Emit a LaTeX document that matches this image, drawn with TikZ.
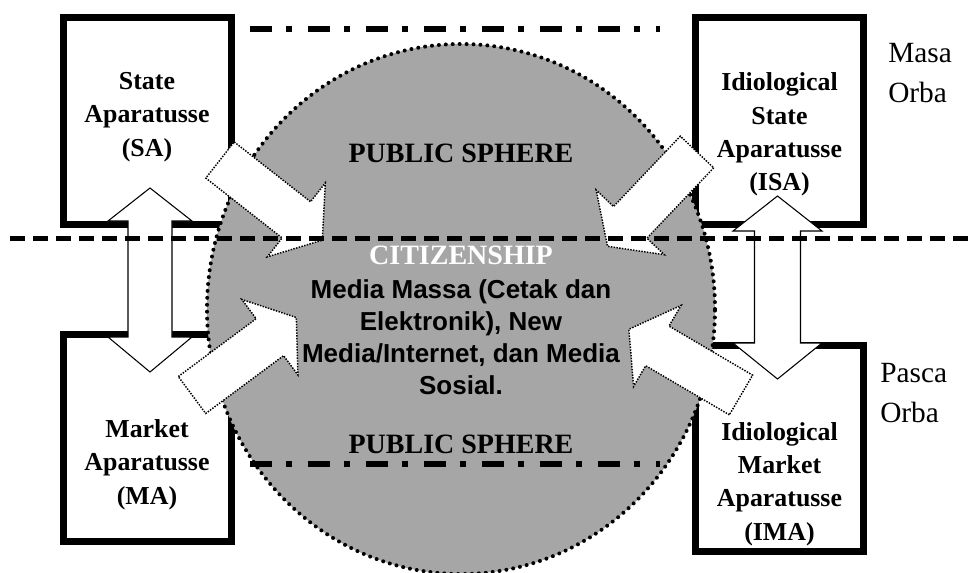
\documentclass[tikz,border=0pt]{standalone}
\usepackage{fontspec}
\setmainfont{Liberation Serif}
\newfontfamily\arialfam{Liberation Sans}
\usetikzlibrary{shapes.geometric}
\definecolor{spheregray}{RGB}{166,166,166}

% block arrow: tail centre (#1,#2), pointing at angle #3
\newcommand{\pointerarrow}[3]{%
  \begin{scope}[shift={(#1,#2)},rotate=#3]
    \draw[barrow] (0,-23) -- (97,-23) -- (97,-47) -- (130,0) -- (97,47) -- (97,23) -- (0,23) -- cycle;
  \end{scope}}

\begin{document}
\begin{tikzpicture}[x=0.75pt,y=-0.75pt,
  apbox/.style={draw=black, fill=white, line width=5.25pt, minimum width=126pt,
    minimum height=155.25pt, inner sep=0pt, outer sep=0pt},
  boxtext/.style={font=\fontsize{19.4}{25}\selectfont\bfseries, align=center, inner sep=0pt},
  sphere/.style={ellipse, fill=spheregray, draw=black, line width=3pt, line cap=round,
    dash pattern=on 0pt off 5.2pt, minimum width=381pt, minimum height=397.5pt, inner sep=0pt},
  barrow/.style={draw=black, fill=white, line width=1.1pt, dash pattern=on 1.1pt off 1pt},
  darrow/.style={draw=black, fill=white, line width=0.8pt, line join=miter},
  eraline/.style={line width=3.75pt, dash pattern=on 11.25pt off 6pt},
  dashdotline/.style={line width=4.5pt, dash pattern=on 16.5pt off 10.5pt on 4.5pt off 12pt},
  headline/.style={font=\fontsize{21}{25}\selectfont\bfseries, inner sep=0pt},
  period/.style={font=\fontsize{22}{30}\selectfont, align=left, anchor=west, inner sep=0pt}
]
\useasboundingbox (0,0) rectangle (975,572);

% the four apparatus boxes
\node[apbox] (sa)  at (147,120.5) {};
\node[apbox] (ma)  at (147,437.5) {};
\node[apbox] (isa) at (779.5,120.5) {};
\node[apbox, minimum height=154.5pt] (ima) at (779.5,448) {};

% the public sphere
\node[sphere] (ps) at (461,309) {};

% two-way arrows between the boxes
\draw[darrow] (150,188) -- (192,221) -- (172,221) -- (172,337) -- (192,337) -- (150,372)
  -- (108,337) -- (128,337) -- (128,221) -- (108,221) -- cycle;
\draw[darrow] (777.5,196) -- (822,231) -- (800.5,231) -- (800.5,343) -- (822,343) -- (777.5,379)
  -- (733,343) -- (754.5,343) -- (754.5,231) -- (733,231) -- cycle;

% arrows pointing into the sphere
\pointerarrow{220}{160}{-38.1}
\pointerarrow{192}{395}{36.6}
\pointerarrow{697}{152}{-133.5}
\pointerarrow{741}{395}{149.6}

% era divider and sphere boundaries
\coordinate (eraL) at (10,238);
\coordinate (eraR) at (975,238);
\draw[eraline] (eraL) -- (eraR);
\coordinate (topL) at (250,29);
\coordinate (topR) at (660,29);
\draw[dashdotline] (topL) -- (topR);
\coordinate (botL) at (250,464);
\coordinate (botR) at (660,464);
\draw[dashdotline] (botL) -- (botR);

% labels
\node[boxtext] at (147,117) {State\\Aparatusse\\(SA)};
\node[boxtext] at (147,464.5) {Market\\Aparatusse\\(MA)};
\node[boxtext] at (779.5,134.5) {Idiological\\State\\Aparatusse\\(ISA)};
\node[boxtext] at (779.5,484) {Idiological\\Market\\Aparatusse\\(IMA)};

\node[headline] at (461,153) {PUBLIC SPHERE};
\node[headline] at (461,444) {PUBLIC SPHERE};
\node[headline, text=white] at (461,255) {CITIZENSHIP};
\node[font=\arialfam\fontsize{19.5}{24}\selectfont\bfseries, align=center, inner sep=0pt]
  at (461,337) {Media Massa (Cetak dan\\Elektronik), New\\Media/Internet, dan Media\\Sosial.};

\node[period] at (888,73) {Masa\\Orba};
\node[period] at (880,393) {Pasca\\Orba};
\end{tikzpicture}
\end{document}
